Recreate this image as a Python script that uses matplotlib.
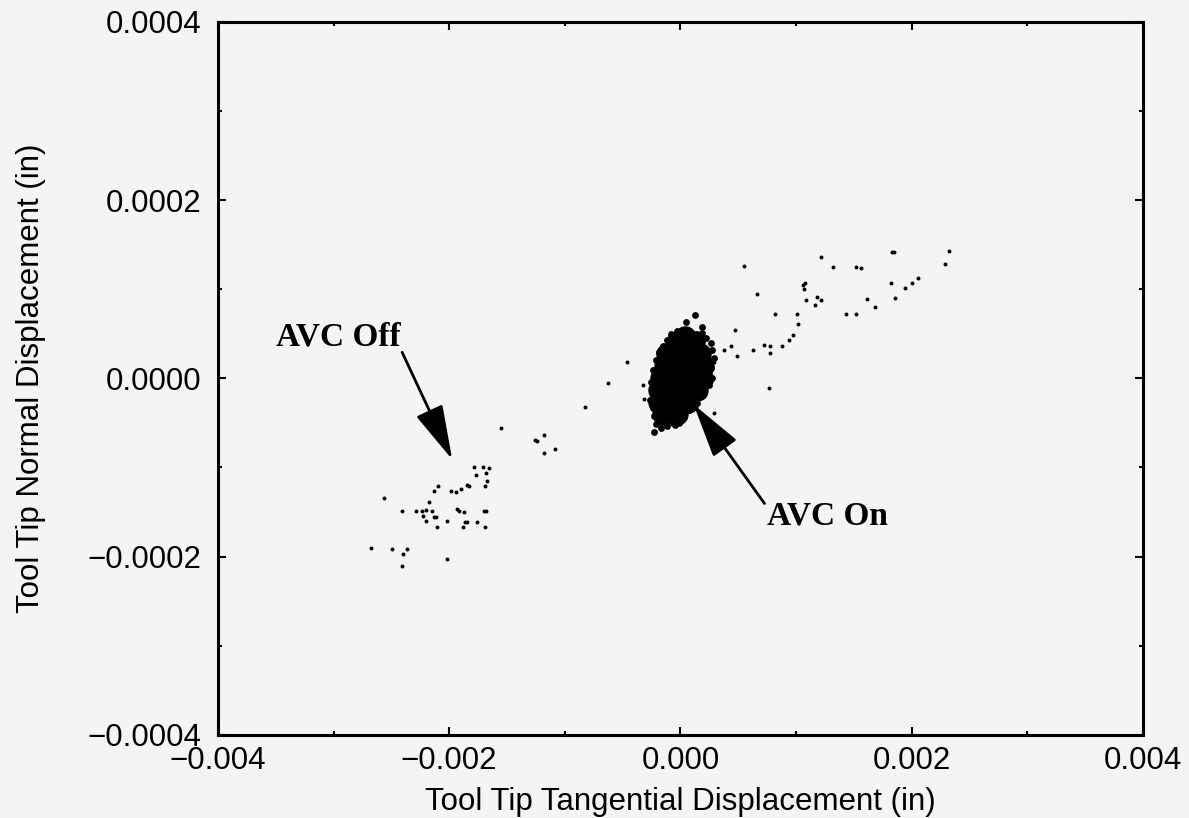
import numpy as np
import matplotlib
matplotlib.use("Agg")
from matplotlib import pyplot as plt
from matplotlib.ticker import MultipleLocator, FuncFormatter

plt.rcParams['font.family'] = ['Liberation Sans', 'DejaVu Sans']

# x in units of 1e-3 in, y in units of 1e-4 in
# AVC off: sparse trajectory from lower left to upper right
off_x = [-1.552, -1.784, -1.706, -1.654, -1.764, -1.682, -1.674, -1.691, -1.842, -1.827,
         -1.899, -2.101, -2.130, -1.985, -1.942, -2.563, -2.179, -2.404, -2.288, -2.231,
         -2.202, -2.150, -1.933, -1.913, -1.870, -1.703, -1.682, -2.223, -2.130, -2.115,
         -2.202, -2.015, -1.861, -1.842, -1.758, -2.106, -1.879, -1.688, -2.678, -2.491,
         -2.361, -2.398, -2.404, -2.015,
         -0.461, -0.623, -0.823, -1.184, -1.255, -1.244, -1.082, -1.184,
         -0.326, -0.312, 0.288, 0.260, 0.286,
         0.551, 0.664, 0.820, 1.010, 1.016, 0.972, 0.935, 0.880, 0.771, 0.721,
         0.771, 0.626, 0.468, 0.439, 0.375, 0.487, 0.762,
         1.212, 1.319, 1.515, 1.565, 1.833, 1.845, 2.320, 2.286, 2.058, 2.003,
         1.942, 1.818, 1.855, 1.682, 1.610, 1.521, 1.429, 1.074, 1.059, 1.068,
         1.082, 1.180, 1.218, 1.166]
off_y = [-0.554, -0.997, -1.000, -1.003, -1.079, -1.060, -1.157, -1.213, -1.194, -1.213,
         -1.236, -1.210, -1.262, -1.262, -1.270, -1.340, -1.382, -1.487, -1.483, -1.483,
         -1.475, -1.491, -1.461, -1.483, -1.494, -1.487, -1.483, -1.543, -1.551, -1.558,
         -1.599, -1.603, -1.610, -1.615, -1.610, -1.663, -1.663, -1.663, -1.902, -1.910,
         -1.910, -1.970, -2.101, -2.030,
         0.187, -0.048, -0.326, -0.637, -0.693, -0.708, -0.794, -0.839,
         -0.079, -0.228, 0.187, -0.045, -0.393,
         1.262, 0.944, 0.719, 0.719, 0.607, 0.483, 0.427, 0.363, 0.363, 0.374,
         0.284, 0.315, 0.539, 0.363, 0.315, 0.251, -0.105,
         1.356, 1.244, 1.244, 1.232, 1.416, 1.416, 1.427, 1.284, 1.127, 1.067,
         1.011, 1.071, 0.896, 0.798, 0.888, 0.716, 0.716, 1.064, 1.045, 0.997,
         0.884, 0.907, 0.884, 0.824]

# AVC on: dense core of the cluster
core_x = [-0.026, 0.113, 0.043,
          -0.113, 0.026, 0.165, -0.043, 0.095,
          -0.130, -0.009, 0.113, 0.199, 0.052,
          -0.165, -0.043, 0.078, 0.182, 0.017,
          -0.182, -0.061, 0.061, 0.147, 0.000,
          -0.182, -0.061, 0.061, -0.120,
          -0.147, -0.026, -0.087]
core_y = [0.404, 0.404, 0.460,
          0.270, 0.270, 0.270, 0.337, 0.337,
          0.135, 0.135, 0.135, 0.135, 0.202,
          0.0, 0.0, 0.0, 0.0, 0.067,
          -0.135, -0.135, -0.135, -0.135, -0.067,
          -0.270, -0.270, -0.270, -0.202,
          -0.404, -0.404, -0.337]

# AVC on: ragged edge of the cluster
edge_x = [-0.078, -0.026, 0.026, 0.078, 0.139, 0.190, 0.225, 0.260, -0.113, -0.147,
          0.130, 0.052, 0.182,
          0.277, 0.286, 0.268, 0.277, 0.251, 0.199, 0.147, 0.078, 0.009,
          -0.182, -0.208, -0.234, -0.251, -0.242, -0.260, -0.234, -0.225, -0.208,
          -0.165, -0.113, -0.061, -0.225, -0.043, -0.009]
edge_y = [0.494, 0.528, 0.506, 0.528, 0.494, 0.506, 0.449, 0.393, 0.427, 0.360,
          0.708, 0.629, 0.573,
          0.315, 0.225, 0.112, 0.0, -0.079, -0.191, -0.281, -0.360, -0.427,
          0.292, 0.202, 0.090, -0.045, -0.157, -0.247, -0.337, -0.427, -0.517,
          -0.562, -0.539, -0.506, -0.607, -0.528, -0.506]

bg = '#f4f4f4'
fig = plt.figure(figsize=(11.89, 8.18), dpi=100, facecolor=bg)
ax = fig.add_axes([0.1833, 0.1015, 0.7780, 0.8720], facecolor=bg)

ax.scatter(np.array(off_x) * 1e-3, np.array(off_y) * 1e-4, s=8, c='black', marker='o',
           linewidths=0)
ax.scatter(np.array(core_x) * 1e-3, np.array(core_y) * 1e-4, s=260, c='black', marker='o',
           linewidths=0)
ax.scatter(np.array(edge_x) * 1e-3, np.array(edge_y) * 1e-4, s=24, c='black', marker='o',
           linewidths=0)


def fmt(decimals):
    return FuncFormatter(lambda v, pos: f'{v:.{decimals}f}'.replace('-', '\u2212'))


ax.set_xlim(-0.004, 0.004)
ax.set_ylim(-0.0004, 0.0004)
ax.xaxis.set_major_locator(MultipleLocator(0.002))
ax.xaxis.set_minor_locator(MultipleLocator(0.001))
ax.yaxis.set_major_locator(MultipleLocator(0.0002))
ax.yaxis.set_minor_locator(MultipleLocator(0.0001))
ax.xaxis.set_major_formatter(fmt(3))
ax.yaxis.set_major_formatter(fmt(4))
ax.tick_params(which='both', direction='in', top=True, right=True, width=1.5,
               labelsize=22.5)
ax.tick_params(which='major', length=6)
ax.tick_params(which='minor', length=3)
ax.tick_params(axis='x', pad=8)
ax.tick_params(axis='y', pad=12)
for s in ax.spines.values():
    s.set_linewidth(2.2)

ax.set_xlabel('Tool Tip Tangential Displacement (in)', fontsize=22.5, labelpad=8)
ax.set_ylabel('Tool Tip Normal Displacement (in)', fontsize=22.5, labelpad=30)

lbl = dict(fontsize=24, fontweight='bold', family='Liberation Serif')
arw = dict(arrowstyle='-|>,head_length=1.7,head_width=0.45', color='black', lw=2,
           mutation_scale=20, shrinkA=0, shrinkB=0)
ax.annotate('', xy=(-1.974e-3, -0.910e-4), xytext=(-2.407e-3, 0.292e-4),
            arrowprops=arw)
ax.text(-3.498e-3, 0.461e-4, 'AVC Off', va='center', ha='left', **lbl)
ax.annotate('', xy=(0.113e-3, -0.292e-4), xytext=(0.727e-3, -1.404e-4),
            arrowprops=arw)
ax.text(0.745e-3, -1.539e-4, 'AVC On', va='center', ha='left', **lbl)

fig.savefig('out.png', dpi=100, facecolor=bg)
